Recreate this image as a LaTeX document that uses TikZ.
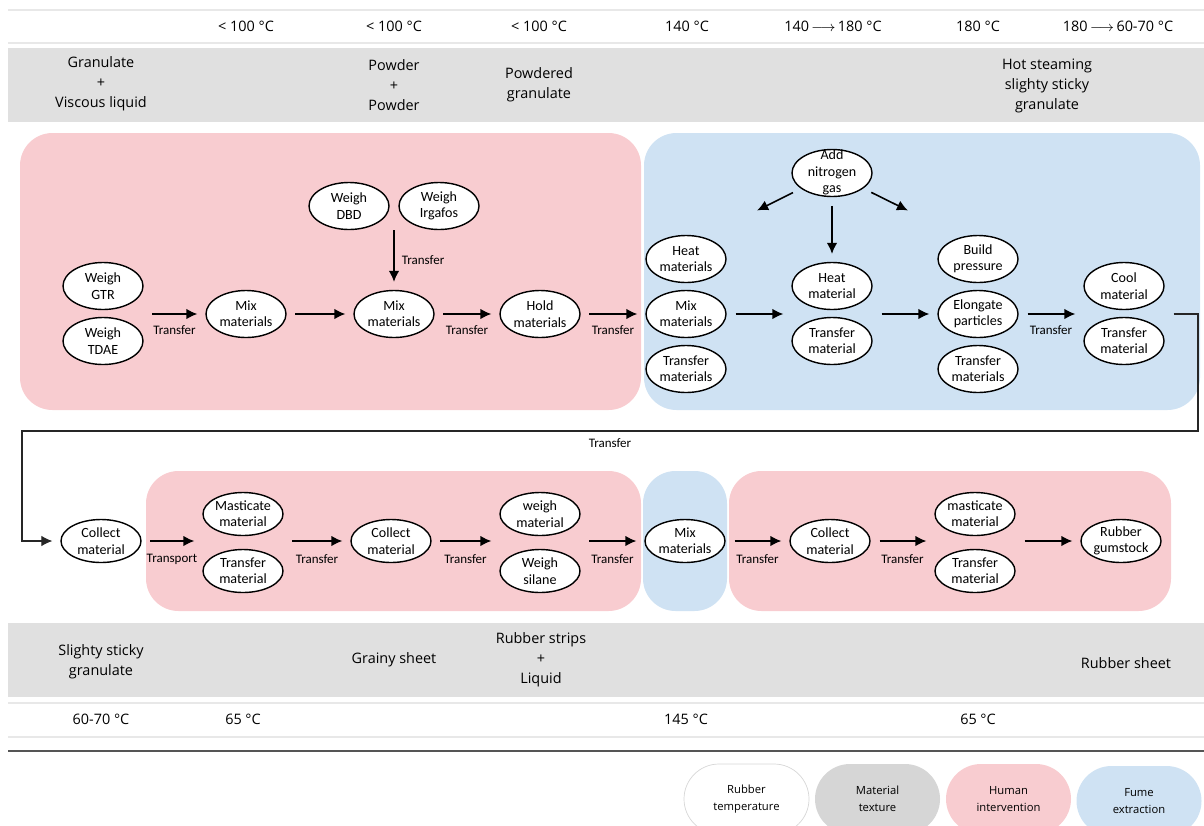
\documentclass[tikz,border=0pt]{standalone}
\usepackage{fontspec}
\setmainfont{Open Sans}
\newfontfamily\carlito{Carlito}
\usepackage{tikz}
\usetikzlibrary{shapes,arrows.meta}

\definecolor{humanpink}{RGB}{248,204,208}
\definecolor{fumeblue}{RGB}{207,226,243}
\definecolor{bandgray}{RGB}{224,224,224}
\definecolor{keygray}{RGB}{214,214,214}
\definecolor{rulegray}{RGB}{232,232,232}
\definecolor{keyrule}{RGB}{215,215,215}
\definecolor{darkrule}{RGB}{85,85,85}

\begin{document}
\begin{tikzpicture}[x=0.2mm, y=-0.2mm,
	proc/.style={ellipse, draw, thick, fill=white, minimum width=16mm, minimum height=9.4mm, inner sep=0, align=center, font=\carlito\fontsize{8}{9.3}\selectfont},
	procs/.style={proc, minimum height=8.6mm},
	flow/.style={-{Latex[length=2.2mm,width=2.1mm]}, line width=0.9pt, shorten <=5pt, shorten >=4.5pt},
	lbl/.style={font=\carlito\fontsize{7.4}{8}\selectfont, inner sep=1pt},
	bandtxt/.style={font=\fontsize{8.2}{11.4}\selectfont, align=center},
	human/.style={fill=humanpink, rounded corners=6.5mm},
	fume/.style={fill=fumeblue, rounded corners=6.5mm},
	keypill/.style={minimum width=25mm, minimum height=14mm, rounded corners=7mm, align=center, font=\fontsize{6.4}{9.5}\selectfont}
]
\useasboundingbox (0,0) rectangle (1204,825);

% top table
\draw[rulegray, line width=1.1pt] (8,10) -- (1204,10) (8,43) -- (1204,43);
\fill[bandgray] (8,48) rectangle (1204,122);
\node[bandtxt] (tA) at (246,26) {< 100 °C};
\node[bandtxt] (tB) at (394,26) {< 100 °C};
\node[bandtxt] (tC) at (539,26) {< 100 °C};
\node[bandtxt] (tD) at (687,26) {140 °C};
\node[bandtxt] (tE) at (833,26) {140\,$\longrightarrow$\,180 °C};
\node[bandtxt] (tF) at (978,26) {180 °C};
\node[bandtxt] (tG) at (1118,26) {180\,$\longrightarrow$\,60-70 °C};
\node[bandtxt] (txA) at (101,84) {Granulate\\+\\Viscous liquid};
\node[bandtxt] (txB) at (394,85) {Powder\\+\\Powder};
\node[bandtxt] (txC) at (539,85) {Powdered\\granulate};
\node[bandtxt] (txD) at (1047,86) {Hot steaming\\slighty sticky\\granulate};

% zones
\fill[human] (20,133) rectangle (641,410);
\fill[fume] (644,133) rectangle (1200,410);
\fill[human] (146,471) rectangle (641,611);
\fill[fume] (643,471) rectangle (727,611);
\fill[human] (729,471) rectangle (1171,611);

% upper row
\node[proc] (gtr) at (103,286) {Weigh\\GTR};
\node[proc] (tdae) at (103,341) {Weigh\\TDAE};
\node[proc] (mixA) at (246,314) {Mix\\materials};
\node[proc] (dbd) at (349,206) {Weigh\\DBD};
\node[proc] (irga) at (439,206) {Weigh\\Irgafos};
\node[proc] (mixB) at (394,314) {Mix\\materials};
\node[proc] (hold) at (540,314) {Hold\\materials};
\node[proc] (heatMs) at (686,259) {Heat\\materials};
\node[proc] (mixC) at (686,314) {Mix\\materials};
\node[proc] (moveA) at (686,369) {Transfer\\materials};
\node[proc] (addN) at (832,173) {\smash{\raisebox{-2pt}{\begin{tabular}{@{}c@{}}Add\\nitrogen\\gas\end{tabular}}}};
\node[proc] (heatM) at (832,286) {Heat\\material};
\node[proc] (moveB) at (832,341) {Transfer\\material};
\node[proc] (press) at (978,259) {Build\\pressure};
\node[proc] (elong) at (978,314) {Elongate\\particles};
\node[proc] (moveC) at (978,369) {Transfer\\materials};
\node[proc] (cool) at (1124,286) {Cool\\material};
\node[proc] (moveD) at (1124,341) {Transfer\\material};
\coordinate (nL) at (750,214);
\coordinate (nR) at (915,214);

\draw[flow] (gtr.east |- mixA) -- (mixA) node[lbl, midway, below=5pt] {Transfer};
\draw[flow] (mixA) -- (mixB);
\draw[flow, shorten <=0pt] (dbd.south -| mixB) -- (mixB) node[lbl, midway, right=3pt] {Transfer};
\draw[flow] (mixB) -- (hold) node[lbl, midway, below=5pt] {Transfer};
\draw[flow] (hold) -- (mixC) node[lbl, midway, below=5pt] {Transfer};
\draw[flow] (mixC) -- (heatM.west |- mixC);
\draw[flow] (heatM.east |- elong) -- (elong);
\draw[flow] (elong) -- (cool.west |- elong) node[lbl, midway, below=5pt] {Transfer};
\draw[flow] (addN) -- (nL);
\draw[flow] (addN) -- (heatM);
\draw[flow] (addN) -- (nR);

% lower row
\node[procs] (collectA) at (101,541) {Collect\\material};
\node[procs] (mastA) at (243,514) {Masticate\\material};
\node[procs] (moveE) at (243,571) {Transfer\\material};
\node[procs] (collectB) at (391,541) {Collect\\material};
\node[procs] (weighM) at (540,514) {weigh\\material};
\node[procs] (silane) at (540,571) {Weigh\\silane};
\node[procs] (mixD) at (685,541) {Mix\\materials};
\node[procs] (collectC) at (830,541) {Collect\\material};
\node[procs] (mastB) at (975,514) {masticate\\material};
\node[procs] (moveF) at (975,571) {Transfer\\material};
\node[procs] (gum) at (1121,541) {Rubber\\gumstock};
\coordinate (loopR) at (1198,431);
\coordinate (loopL) at (22,431);

\draw[flow, line width=0.6pt, draw=black!85] (cool.east |- elong) -| (loopR) -- node[lbl, below=3pt] {Transfer} (loopL) |- (collectA);
\draw[flow] (collectA) -- (mastA.west |- collectA) node[lbl, midway, below=6pt] {Transport};
\draw[flow] (mastA.east |- collectB) -- (collectB) node[lbl, midway, below=6pt] {Transfer};
\draw[flow] (collectB) -- (weighM.west |- collectB) node[lbl, midway, below=6pt] {Transfer};
\draw[flow] (weighM.east |- mixD) -- (mixD) node[lbl, midway, below=6pt] {Transfer};
\draw[flow] (mixD) -- (collectC) node[lbl, midway, below=6pt] {Transfer};
\draw[flow] (collectC) -- (mastB.west |- collectC) node[lbl, midway, below=6pt] {Transfer};
\draw[flow] (mastB.east |- gum) -- (gum);

% bottom table
\fill[bandgray] (8,623) rectangle (1204,697);
\draw[rulegray, line width=1.1pt] (8,703) -- (1204,703) (8,737) -- (1204,737);
\draw[darkrule, line width=1.2pt] (8,751) -- (1204,751);
\node[bandtxt] (txE) at (101,662) {Slighty sticky\\granulate};
\node[bandtxt] (txF) at (394,660) {Grainy sheet};
\node[bandtxt] (txG) at (541,660) {Rubber strips\\+\\Liquid};
\node[bandtxt] (txH) at (1126,663) {Rubber sheet};
\node[bandtxt] (tH) at (101,719) {60-70 °C};
\node[bandtxt] (tI) at (243,719) {65 °C};
\node[bandtxt] (tJ) at (686,719) {145 °C};
\node[bandtxt] (tK) at (978,719) {65 °C};

% legend
\node[keypill, draw=keyrule, fill=white] (kTemp) at (746.5,799) {Rubber\\temperature};
\node[keypill, fill=keygray] (kText) at (877.5,799) {Material\\texture};
\node[keypill, fill=humanpink] (kHum) at (1008.5,799) {Human\\intervention};
\node[keypill, fill=fumeblue] (kFume) at (1139,801) {Fume\\extraction};
\end{tikzpicture}
\end{document}
